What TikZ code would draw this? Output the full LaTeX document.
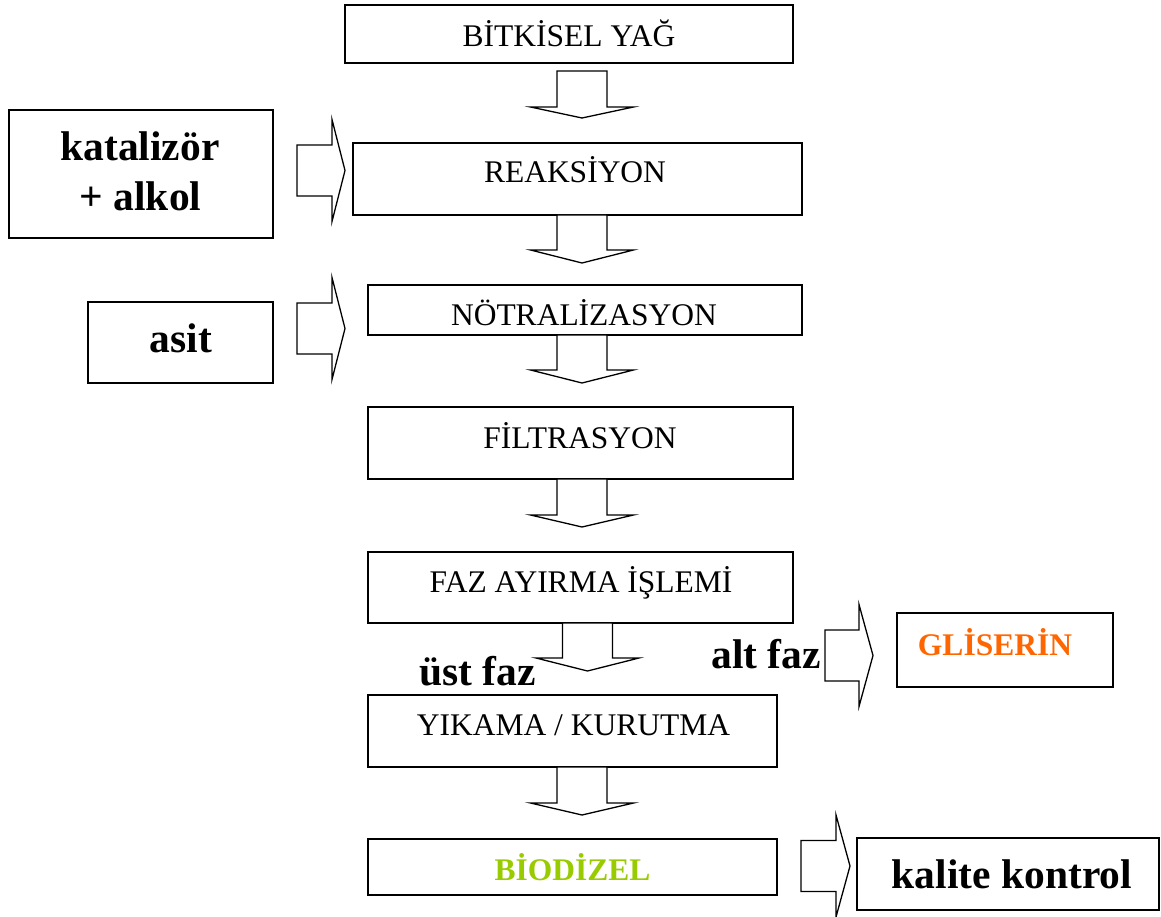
\documentclass[tikz,border=0pt]{standalone}
\usepackage{fontspec}
\setmainfont{Liberation Serif}
\definecolor{glisorange}{HTML}{FF6600}
\definecolor{biogreen}{HTML}{99CC00}
\newcommand\mybox[5]{\node[box, minimum width={#4-#2}, minimum height={#5-#3}] (#1) at ({(#2+#4)/2},{(#3+#5)/2}) {};}
\newcommand\dnarrow[3]{\draw[barrow] (#1) ++(-25,0) -- ++(0,#2) -- ++(-26.5,0) -- ++(51.5,#3) -- ++(51.5,-#3) -- ++(-26.5,0) -- ++(0,-#2) -- cycle;}
\newcommand\rtarrow[3]{\draw[barrow] (#1) ++(0,-25.5) -- ++(#2,0) -- ++(0,-25.5) -- ++(#3,51) -- ++(-#3,51) -- ++(0,-25.5) -- ++(-#2,0) -- cycle;}
\begin{document}
\begin{tikzpicture}[x=1pt,y=-1pt,
  box/.style={draw, line width=2.2pt, rectangle, inner sep=0pt, outer sep=0pt},
  lbl/.style={anchor=base, inner sep=0pt, font=\fontsize{31.5}{38}\selectfont},
  blbl/.style={anchor=base, inner sep=0pt, font=\fontsize{41.5}{50}\selectfont\bfseries},
  clbl/.style={anchor=base, inner sep=0pt, font=\fontsize{31.5}{38}\selectfont\bfseries},
  barrow/.style={draw, line width=1.3pt, line join=miter, fill=white}]
\useasboundingbox (0,0) rectangle (1161,917);

% boxes
\mybox{yag}{345}{5}{793}{63}
\mybox{kat}{9}{110}{273}{238}
\mybox{reak}{353}{143}{802}{215}
\mybox{asit}{88}{302}{273}{383}
\mybox{notr}{368}{285}{802}{335}
\mybox{filt}{368}{407}{793}{479}
\mybox{faz}{368}{552}{793}{623}
\mybox{glis}{897}{613}{1113}{687}
\mybox{yika}{368}{695}{777}{767}
\mybox{bio}{368}{839}{777}{895}
\mybox{kal}{857}{838}{1159}{910}

% labels
\node[lbl] (yagt) at (569,47) {BİTKİSEL YAĞ};
\node[blbl] (katt1) at (140,161) {katalizör};
\node[blbl] (katt2) at (140.5,211) {+ alkol};
\node[lbl] (reakt) at (575,183) {REAKSİYON};
\node[blbl] (asitt) at (181,352) {asit};
\node[lbl] (notrt) at (584,325) {NÖTRALİZASYON};
\node[lbl] (filtt) at (580,448) {FİLTRASYON};
\node[lbl] (fazt) at (581,592) {FAZ AYIRMA İŞLEMİ};
\node[blbl] (ust) at (477.5,685) {üst faz};
\node[blbl] (alt) at (766,668) {alt faz};
\node[clbl, text=glisorange] (glist) at (995,655) {GLİSERİN};
\node[lbl] (yikat) at (573.5,735) {YIKAMA / KURUTMA};
\node[clbl, text=biogreen] (biot) at (572.5,880) {BİODİZEL};
\node[blbl] (kalt) at (1012,888) {kalite kontrol};

% down block arrows
\dnarrow{[xshift=13pt,yshift=-8pt]yag.south}{36}{11}
\dnarrow{[xshift=4.5pt]reak.south}{35}{13}
\dnarrow{[xshift=-3pt]notr.south}{35}{13}
\dnarrow{[xshift=1.5pt]filt.south}{36}{12}
\dnarrow{[xshift=7pt]faz.south}{35}{13}
\dnarrow{[xshift=9.5pt]yika.south}{36}{12}

% right block arrows
\rtarrow{[xshift=24pt,yshift=3.5pt]kat.east}{35}{13}
\rtarrow{[xshift=24pt,yshift=14pt]asit.east}{35}{13}
\rtarrow{[xshift=-72pt,yshift=-5.5pt]glis.west}{34}{14}
\rtarrow{[xshift=24pt,yshift=1pt]bio.east}{35}{14}
\end{tikzpicture}
\end{document}
